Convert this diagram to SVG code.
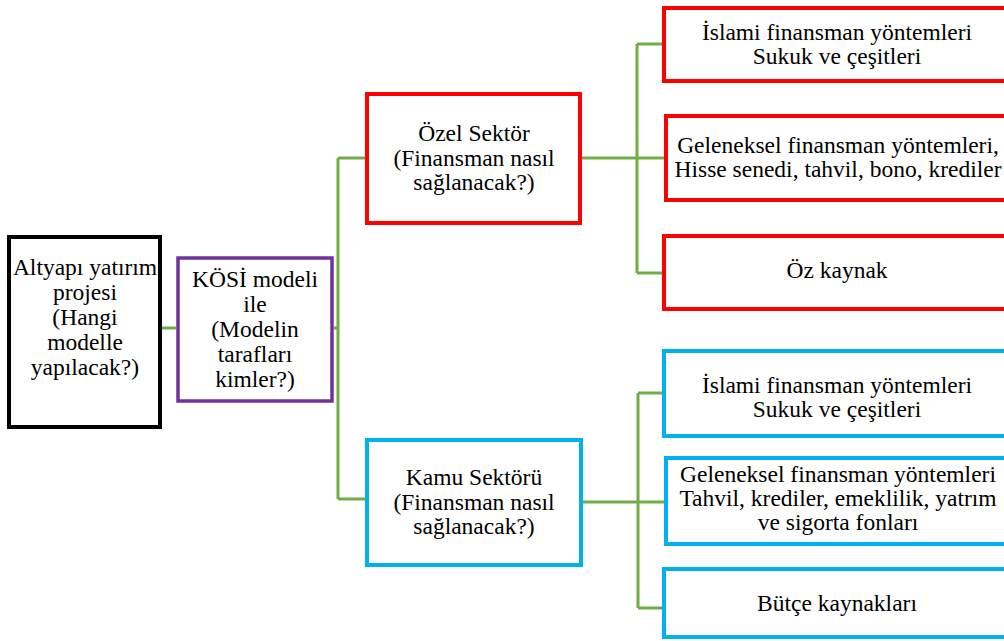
<svg xmlns="http://www.w3.org/2000/svg" width="1004" height="641" viewBox="0 0 1004 641">
  <style>
    .box { fill: #ffffff; }
    .black { stroke: #000000; stroke-width: 4; }
    .purple { stroke: #7030A0; stroke-width: 3.5; }
    .red { stroke: #FF0000; stroke-width: 4; }
    .blue { stroke: #00B0F0; stroke-width: 4; }
    .link { fill: none; stroke: #70AD47; stroke-width: 3; }
    text { font-family: "Liberation Serif", "Times New Roman", serif; font-size: 23.5px; fill: #000000; text-anchor: middle; }
  </style>

  <rect width="1004" height="641" fill="#ffffff"/>

  <!-- connectors -->
  <g id="connectors">
    <path class="link" d="M162,328 H176"/>
    <path class="link" d="M334,328 H338 M338,158 V499 M338,158 H367 M338,499 H367"/>
    <path class="link" d="M582,158 H664 M637,44 V273 M637,44 H664 M637,273 H664"/>
    <path class="link" d="M583,502 H666 M638,393 V608 M638,393 H664 M638,608 H664"/>
  </g>

  <!-- root project -->
  <g id="node-project">
    <rect class="box black" x="9" y="237" width="151" height="190"/>
    <text x="85" y="275">Altyapı yatırım</text>
    <text x="85" y="300">projesi</text>
    <text x="85" y="325">(Hangi</text>
    <text x="85" y="350">modelle</text>
    <text x="85" y="375">yapılacak?)</text>
  </g>

  <!-- PPP model -->
  <g id="node-kosi">
    <rect class="box purple" x="178" y="258" width="154" height="143"/>
    <text x="255" y="287">KÖSİ modeli</text>
    <text x="255" y="312">ile</text>
    <text x="255" y="337">(Modelin</text>
    <text x="255" y="362">tarafları</text>
    <text x="255" y="387">kimler?)</text>
  </g>

  <!-- private sector -->
  <g id="node-ozel">
    <rect class="box red" x="367" y="94" width="213" height="129"/>
    <text x="474" y="141">Özel Sektör</text>
    <text x="474" y="166">(Finansman nasıl</text>
    <text x="474" y="190">sağlanacak?)</text>
  </g>

  <g id="node-ozel-islami">
    <rect class="box red" x="664" y="8" width="360" height="73"/>
    <text x="837" y="40">İslami finansman yöntemleri</text>
    <text x="837" y="64">Sukuk ve çeşitleri</text>
  </g>

  <g id="node-ozel-geleneksel">
    <rect class="box red" x="666" y="116" width="360" height="84"/>
    <text x="838" y="153">Geleneksel finansman yöntemleri,</text>
    <text x="838" y="177">Hisse senedi, tahvil, bono, krediler</text>
  </g>

  <g id="node-ozel-ozkaynak">
    <rect class="box red" x="664" y="236" width="360" height="73"/>
    <text x="837" y="278">Öz kaynak</text>
  </g>

  <!-- public sector -->
  <g id="node-kamu">
    <rect class="box blue" x="367" y="440" width="214" height="125"/>
    <text x="474" y="485">Kamu Sektörü</text>
    <text x="474" y="510">(Finansman nasıl</text>
    <text x="474" y="534">sağlanacak?)</text>
  </g>

  <g id="node-kamu-islami">
    <rect class="box blue" x="664" y="351" width="360" height="85"/>
    <text x="837" y="393">İslami finansman yöntemleri</text>
    <text x="837" y="417">Sukuk ve çeşitleri</text>
  </g>

  <g id="node-kamu-geleneksel">
    <rect class="box blue" x="666" y="458" width="360" height="86"/>
    <text x="838" y="482">Geleneksel finansman yöntemleri</text>
    <text x="838" y="506">Tahvil, krediler, emeklilik, yatrım</text>
    <text x="838" y="530">ve sigorta fonları</text>
  </g>

  <g id="node-kamu-butce">
    <rect class="box blue" x="664" y="569" width="360" height="68"/>
    <text x="837" y="611">Bütçe kaynakları</text>
  </g>
</svg>
